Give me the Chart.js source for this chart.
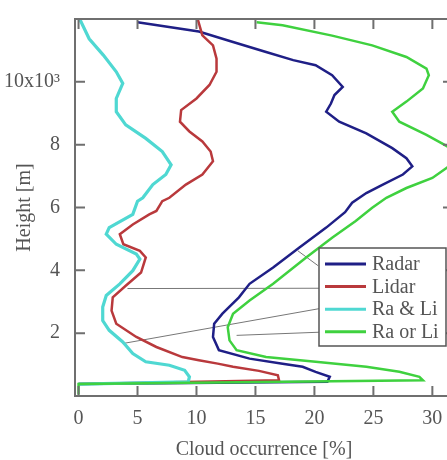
<!DOCTYPE html>
<html>
<head>
<meta charset="utf-8">
<script src="https://cdn.jsdelivr.net/npm/chart.js@4/dist/chart.umd.min.js"></script>
<style>
  html, body { margin: 0; padding: 0; background: #fff; overflow: hidden; }
  #wrap { width: 447px; height: 460px; overflow: hidden; }
</style>
</head>
<body>
<div id="wrap"><canvas id="chart" width="470" height="460"></canvas></div>
<script>
// Profiles: heights in km, occurrence in %
const radarHeight = [11.9, 11.6, 11.27, 10.95, 10.69, 10.53, 10.21, 9.84, 9.58, 9.31, 9.05, 8.73, 8.36, 7.89, 7.57, 7.31, 7.05, 6.73, 6.46, 6.15, 5.85, 5.36, 4.72, 4.09, 3.57, 3.14, 2.62, 2.3, 1.88, 1.46, 1.19, 1.03, 0.93, 0.77, 0.61, 0.45, 0.38];
const radarValue  = [5.0, 10.2, 13.1, 15.9, 18.2, 20.1, 21.5, 22.4, 21.7, 21.4, 21.0, 22.1, 24.4, 26.6, 27.8, 28.3, 27.5, 25.8, 24.4, 23.2, 22.6, 21.0, 18.7, 16.5, 14.5, 13.6, 12.2, 11.5, 11.4, 11.9, 14.5, 17.3, 19.0, 20.1, 21.3, 21.1, 0];

const lidarHeight = [12.0, 11.48, 11.16, 10.74, 10.32, 9.9, 9.47, 9.1, 8.73, 8.42, 8.1, 7.78, 7.47, 7.05, 6.73, 6.31, 6.2, 5.89, 5.78, 5.46, 5.15, 4.83, 4.62, 4.41, 3.93, 3.51, 3.14, 2.72, 2.3, 1.88, 1.56, 1.24, 1.14, 1.03, 0.93, 0.8, 0.66, 0.5, 0.38];
const lidarValue  = [10.1, 10.5, 11.4, 11.7, 11.7, 11.1, 10.0, 8.7, 8.6, 9.4, 10.5, 11.2, 11.4, 10.5, 9.1, 7.7, 7.1, 6.6, 6.0, 4.6, 3.5, 3.8, 5.2, 5.7, 5.3, 4.0, 2.9, 2.8, 3.2, 4.9, 6.6, 8.8, 10.2, 11.8, 13.1, 15.3, 16.9, 17.0, 0];

const bothHeight = [12.0, 11.37, 10.85, 10.32, 9.95, 9.47, 9.05, 8.63, 8.2, 7.78, 7.36, 7.05, 6.73, 6.31, 6.2, 5.78, 5.36, 5.15, 4.83, 4.52, 4.36, 3.99, 3.57, 3.2, 2.83, 2.4, 2.09, 1.72, 1.35, 1.09, 0.98, 0.82, 0.61, 0.45, 0.38];
const bothValue  = [0.1, 0.9, 2.1, 3.2, 3.75, 3.2, 3.2, 4.0, 5.7, 7.1, 7.85, 7.4, 6.3, 5.45, 5.0, 4.6, 2.6, 2.35, 3.2, 4.9, 5.2, 4.6, 3.5, 2.35, 2.05, 2.05, 2.6, 3.75, 4.6, 5.7, 7.7, 9.0, 9.4, 9.3, 0];

const eitherHeight = [11.9, 11.8, 11.47, 11.16, 10.79, 10.42, 10.21, 9.79, 9.37, 9.05, 8.73, 8.31, 8.0, 7.65, 7.26, 6.94, 6.62, 6.31, 5.99, 5.57, 5.04, 4.41, 3.57, 3.04, 2.62, 2.19, 1.77, 1.46, 1.24, 1.09, 0.93, 0.77, 0.61, 0.5, 0.38, 0.05];
const eitherValue  = [15.1, 17.3, 21.5, 24.9, 27.8, 29.5, 29.7, 29.2, 27.8, 26.6, 27.2, 29.5, 31.0, 32.6, 31.2, 30.0, 27.8, 26.1, 24.9, 23.5, 21.5, 19.3, 16.5, 14.5, 13.1, 12.65, 12.8, 13.4, 15.9, 20.1, 24.4, 27.2, 28.9, 29.2, 0, 0];

// thin grey leader lines from the curves to the legend entries: [x1, x2], [y1, y2]
const radarLeaderX = [18.6, 20.3],  radarLeaderY = [4.62, 4.15];
const lidarLeaderX = [4.15, 20.4],  lidarLeaderY = [3.42, 3.43];
const bothLeaderX = [3.75, 20.4],   bothLeaderY = [1.67, 2.78];
const eitherLeaderX = [13.4, 20.4], eitherLeaderY = [1.93, 2.03];

const xTicks = [0, 5, 10, 15, 20, 25, 30];
const yTicks = [2, 4, 6, 8, 10];
const yTickText = { 10: "10x10\u00b3" };

const SERIF = "'Liberation Serif', 'DejaVu Serif', serif";
const TEXT = "#555";
const FRAME = "#6f6f6f";

function pts(xs, ys) {
  return xs.map((v, i) => ({ x: v, y: ys[i] }));
}

function profile(label, xs, ys, color, order, width) {
  return {
    label, data: pts(xs, ys), borderColor: color, backgroundColor: color,
    borderWidth: width, pointRadius: 0, tension: 0, showLine: true, order
  };
}

function leader(xs, ys) {
  return {
    label: "", data: pts(xs, ys), borderColor: "#777", borderWidth: 1,
    pointRadius: 0, showLine: true, order: 10, legend: false
  };
}

// frame and inward ticks on all four sides
const framePlugin = {
  id: "frame",
  afterDatasetsDraw(chart) {
    const { ctx, chartArea: a, scales: { x, y } } = chart;
    ctx.save();
    ctx.strokeStyle = FRAME;
    ctx.lineWidth = 2;
    ctx.strokeRect(a.left, a.top, a.right - a.left, a.bottom - a.top);
    ctx.beginPath();
    for (const t of xTicks) {
      const px = x.getPixelForValue(t);
      ctx.moveTo(px, a.bottom); ctx.lineTo(px, a.bottom - 10);
      ctx.moveTo(px, a.top); ctx.lineTo(px, a.top + 10);
    }
    for (const t of yTicks) {
      const py = y.getPixelForValue(t);
      ctx.moveTo(a.left, py); ctx.lineTo(a.left + 10, py);
      ctx.moveTo(a.right, py); ctx.lineTo(a.right - 10, py);
    }
    ctx.stroke();
    ctx.restore();
  }
};

// legend box sitting inside the plot, lower right
const legendPlugin = {
  id: "boxLegend",
  afterDraw(chart) {
    const { ctx } = chart;
    const box = { left: 319, top: 248, right: 446, bottom: 346 };
    ctx.save();
    ctx.fillStyle = "#fff";
    ctx.fillRect(box.left, box.top, box.right - box.left, box.bottom - box.top);
    ctx.strokeStyle = "#555";
    ctx.lineWidth = 1.5;
    ctx.strokeRect(box.left, box.top, box.right - box.left, box.bottom - box.top);
    const entries = chart.data.datasets.filter(d => d.legend !== false);
    const order = ["Radar", "Lidar", "Ra & Li", "Ra or Li"];
    ctx.font = "20px " + SERIF;
    ctx.textBaseline = "middle";
    order.forEach((name, i) => {
      const ds = entries.find(d => d.label === name);
      const yy = 264 + i * 22.6;
      ctx.strokeStyle = ds.borderColor;
      ctx.lineWidth = 3;
      ctx.beginPath();
      ctx.moveTo(325, yy); ctx.lineTo(366, yy);
      ctx.stroke();
      ctx.fillStyle = TEXT;
      ctx.fillText(name, 372, yy + 1);
    });
    ctx.restore();
  }
};

new Chart(document.getElementById("chart"), {
  type: "scatter",
  data: {
    datasets: [
      profile("Ra or Li", eitherValue, eitherHeight, "#3fd13f", 0, 2.5),
      profile("Ra & Li", bothValue, bothHeight, "#4fd8d2", 1, 3.2),
      profile("Lidar", lidarValue, lidarHeight, "#b9393c", 2, 2.5),
      profile("Radar", radarValue, radarHeight, "#1f1f86", 3, 2.5),
      leader(radarLeaderX, radarLeaderY),
      leader(lidarLeaderX, lidarLeaderY),
      leader(bothLeaderX, bothLeaderY),
      leader(eitherLeaderX, eitherLeaderY)
    ]
  },
  options: {
    responsive: false,
    animation: false,
    layout: { padding: { top: 17, right: 17, left: 0, bottom: 0 } },
    plugins: { legend: { display: false }, tooltip: { enabled: false } },
    scales: {
      x: {
        type: "linear", min: -0.3, max: 31.75,
        grid: { display: false }, border: { display: false },
        afterBuildTicks: s => { s.ticks = xTicks.map(v => ({ value: v })); },
        afterFit: s => { s.height = 64; },
        ticks: { color: TEXT, font: { family: SERIF, size: 20 }, padding: 3, maxRotation: 0 },
        title: { display: true, text: "Cloud occurrence [%]", color: TEXT,
                 font: { family: SERIF, size: 20, lineHeight: 1 }, padding: 0 }
      },
      y: {
        type: "linear", min: 0, max: 12,
        grid: { display: false }, border: { display: false },
        afterBuildTicks: s => { s.ticks = yTicks.map(v => ({ value: v })); },
        afterFit: s => { s.width = 75; },
        ticks: { color: TEXT, font: { family: SERIF, size: 20 }, padding: 7,
                 callback: v => yTickText[v] || String(v) },
        title: { display: true, text: "Height [m]", color: TEXT,
                 font: { family: SERIF, size: 20 }, padding: { top: 13, bottom: 0 } }
      }
    }
  },
  plugins: [framePlugin, legendPlugin]
});
</script>
</body>
</html>
